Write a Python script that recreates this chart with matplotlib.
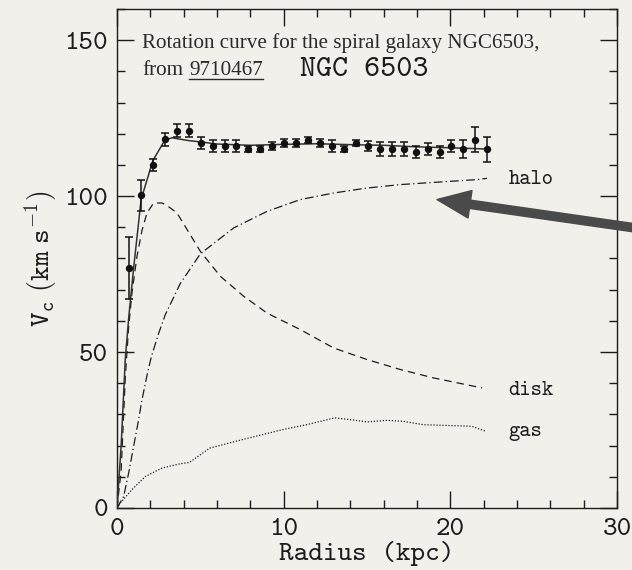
import matplotlib
matplotlib.use('Agg')
import matplotlib.pyplot as plt
from matplotlib.ticker import MultipleLocator
from matplotlib.lines import Line2D

# observed rotation curve (NGC 6503)
r_obs = [0.73, 1.45, 2.16, 2.88, 3.59, 4.31, 5.03, 5.74, 6.46, 7.17, 7.89,
         8.61, 9.32, 10.04, 10.75, 11.47, 12.19, 12.90, 13.62, 14.33, 15.05,
         15.77, 16.48, 17.20, 17.91, 18.63, 19.35, 20.06, 20.78, 21.49, 22.21]
v_obs = [77.0, 100.2, 110.0, 118.2, 121.0, 121.0, 117.0, 116.1, 116.1, 116.1, 115.0,
         115.0, 116.1, 117.0, 117.0, 118.1, 117.0, 116.1, 115.0, 117.0, 116.1,
         115.1, 115.1, 115.1, 114.1, 115.1, 114.1, 116.1, 115.1, 118.1, 115.1]
v_err = [10.0, 5.0, 2.0, 2.0, 2.0, 2.0, 2.0, 2.0, 2.0, 2.0, 1.0,
         1.0, 1.2, 1.2, 1.2, 1.0, 1.2, 2.0, 1.0, 1.0, 1.5,
         2.3, 2.3, 2.3, 2.0, 2.0, 2.0, 2.0, 3.0, 4.0, 4.0]

# total model fit
r_fit = [0.0, 0.25, 0.5, 0.72, 1.0, 1.45, 2.16, 2.88, 3.3, 4.3, 5.0, 6.0,
         8.0, 10.0, 12.0, 14.0, 16.0, 18.0, 20.0, 22.2]
v_fit = [0.0, 20.0, 48.0, 62.0, 77.0, 99.0, 111.5, 118.0, 118.7, 117.8, 117.4, 116.7,
         116.3, 116.6, 116.8, 116.5, 116.3, 115.8, 115.5, 115.1]

# halo component
r_halo = [0.0, 0.4, 0.7, 1.0, 1.26, 1.5, 1.8, 2.06, 2.5, 2.9, 3.8, 5.0, 7.0,
          9.0, 11.0, 13.0, 15.0, 17.0, 19.0, 21.6, 22.2]
v_halo = [0.0, 3.7, 11.2, 19.8, 27.2, 34.7, 42.5, 48.5, 56.0, 62.0, 72.0, 81.5, 89.8,
          95.1, 98.9, 101.0, 102.6, 103.7, 104.4, 105.3, 105.7]

# disk component
r_disk = [0.0, 0.25, 0.5, 0.7, 0.9, 1.2, 1.5, 1.8, 2.2, 2.7, 3.0, 3.6, 5.0,
          6.2, 7.6, 9.0, 11.0, 13.0, 15.0, 17.0, 19.0, 21.9]
v_disk = [0.0, 12.0, 42.0, 58.0, 69.0, 80.7, 89.0, 94.6, 97.8, 97.8, 97.0, 94.6, 82.3,
          74.3, 67.9, 62.5, 57.2, 51.3, 47.6, 44.4, 41.7, 38.5]

# gas component
r_gas = [0.0, 0.2, 0.9, 1.7, 2.7, 3.8, 4.35, 5.56, 7.5, 9.92, 11.37, 13.06, 14.03,
         15.0, 16.2, 17.17, 18.38, 19.59, 21.28, 22.13]
v_gas = [0.0, 1.6, 5.9, 10.1, 12.8, 14.2, 14.6, 19.2, 21.9, 25.1, 26.7, 28.9, 28.3,
         27.6, 28.1, 27.8, 26.7, 26.5, 26.2, 24.6]

plt.rcParams['font.family'] = ['cmtt10', 'DejaVu Sans']
plt.rcParams['mathtext.fontset'] = 'cm'
plt.rcParams['axes.unicode_minus'] = False

paper = '#f2f0eb'
ink = '#1c1c1c'

fig = plt.figure(figsize=(6.32, 5.70), dpi=100, facecolor=paper)
ax = fig.add_axes([0.1851, 0.1088, 0.7912, 0.8754])
ax.set_facecolor(paper)

ax.plot(r_fit, v_fit, '-', color='#333333', lw=1.1, zorder=3)
ax.plot(r_halo, v_halo, color=ink, lw=0.9, dashes=(7, 2.5, 1, 2.5))
ax.plot(r_disk, v_disk, color=ink, lw=0.9, dashes=(6, 4))
ax.plot(r_gas, v_gas, color=ink, lw=0.9, dashes=(1, 1.4))
ax.errorbar(r_obs, v_obs, yerr=v_err, fmt='o', ms=4.3, color='#111111',
            ecolor='#111111', elinewidth=1.1, capsize=3.0, capthick=1.1, zorder=4)

ax.text(23.5, 105.3, 'halo', fontsize=15.5, color=ink, va='center')
ax.text(23.5, 37.7, 'disk', fontsize=15.5, color=ink, va='center')
ax.text(23.5, 24.6, 'gas', fontsize=15.5, color=ink, va='center')
ax.text(10.98, 138.4, 'NGC 6503', fontsize=22, color=ink, va='baseline')

serif = ['Liberation Serif', 'DejaVu Serif']
ax.text(1.52, 147.6, 'Rotation curve for the spiral galaxy NGC6503,',
        family=serif, fontsize=15.2, color='#2a2a2a', va='baseline')
t_from = ax.text(1.52, 138.9, 'from', family=serif, fontsize=15.2,
                 color='#2a2a2a', va='baseline')
t_ref = ax.annotate('9710467', xy=(1, 0), xycoords=t_from, xytext=(4, 0),
                    textcoords='offset points', family=serif, fontsize=15.2,
                    color='#2a2a2a', va='bottom')

ax.annotate('', xy=(19.2, 98.9), xytext=(32.0, 89.1),
            arrowprops=dict(arrowstyle='simple,head_length=1.2,head_width=1.0,tail_width=0.3',
                            color='#4a4a4a', mutation_scale=20, shrinkA=0, shrinkB=0),
            annotation_clip=False)

ax.set_xlim(0, 30)
ax.set_ylim(0, 160)
ax.xaxis.set_major_locator(MultipleLocator(10))
ax.xaxis.set_minor_locator(MultipleLocator(2))
ax.yaxis.set_major_locator(MultipleLocator(50))
ax.yaxis.set_minor_locator(MultipleLocator(10))
ax.tick_params(which='both', direction='in', top=True, right=True, color=ink, width=1.0)
ax.tick_params(which='major', length=12, labelsize=20, labelcolor=ink)
ax.tick_params(which='minor', length=5.5)
ax.tick_params(axis='y', pad=6.5)
ax.tick_params(axis='x', pad=7)
for s in ax.spines.values():
    s.set_color(ink)
    s.set_linewidth(1.0)

ax.set_xlabel('Radius (kpc)', fontsize=20, color=ink, labelpad=0)
ax.set_ylabel(r'$\mathtt{V_c\ (km\ s^{-1})}$', fontsize=20, color=ink, labelpad=4)

# underline the preprint number
fig.canvas.draw()
bb = t_ref.get_window_extent().transformed(fig.transFigure.inverted())
fig.add_artist(Line2D([bb.x0, bb.x1], [bb.y0 + 0.002, bb.y0 + 0.002],
                      transform=fig.transFigure, color='#2a2a2a', lw=1.0))

fig.savefig('out.png', dpi=100, facecolor=paper)
